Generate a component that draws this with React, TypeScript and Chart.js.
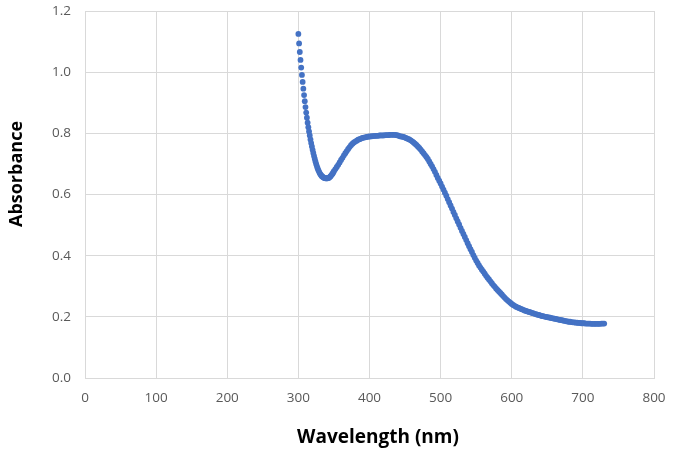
import React, { useEffect, useRef } from "react";
import { Chart, registerables } from "chart.js";

Chart.register(...registerables);

// Wavelength (nm), 1 nm steps over the steep UV edge, 2 nm steps afterwards
const wavelengthsUV: number[] = [
  300, 301, 302, 303, 304, 305, 306, 307, 308, 309, 310, 311, 312, 313, 314, 315, 316, 317, 318, 319,
  320, 321, 322, 323, 324, 325, 326, 327, 328, 329, 330, 331, 332, 333, 334, 335, 336, 337, 338, 339,
  340, 341, 342, 343, 344, 345, 346, 347, 348, 349, 350,
];
const absorbanceUV: number[] = [
  1.125, 1.094, 1.066, 1.04, 1.015, 0.991, 0.968, 0.946, 0.925, 0.905, 0.886, 0.868, 0.851, 0.835, 0.82,
  0.806, 0.793, 0.78, 0.768, 0.757, 0.746, 0.736, 0.726, 0.717, 0.708, 0.7, 0.693, 0.686, 0.68, 0.675,
  0.67, 0.666, 0.663, 0.66, 0.658, 0.656, 0.655, 0.654, 0.653, 0.653, 0.653, 0.653, 0.654, 0.655, 0.657,
  0.659, 0.662, 0.665, 0.668, 0.672, 0.676,
];
const wavelengthsVis: number[] = [
  352, 354, 356, 358, 360, 362, 364, 366, 368, 370, 372, 374, 376, 378, 380, 382, 384, 386, 388, 390,
  392, 394, 396, 398, 400, 402, 404, 406, 408, 410, 412, 414, 416, 418, 420, 422, 424, 426, 428, 430,
  432, 434, 436, 438, 440, 442, 444, 446, 448, 450, 452, 454, 456, 458, 460, 462, 464, 466, 468, 470,
  472, 474, 476, 478, 480, 482, 484, 486, 488, 490, 492, 494, 496, 498, 500, 502, 504, 506, 508, 510,
  512, 514, 516, 518, 520, 522, 524, 526, 528, 530, 532, 534, 536, 538, 540, 542, 544, 546, 548, 550,
  552, 554, 556, 558, 560, 562, 564, 566, 568, 570, 572, 574, 576, 578, 580, 582, 584, 586, 588, 590,
  592, 594, 596, 598, 600, 602, 604, 606, 608, 610, 612, 614, 616, 618, 620, 622, 624, 626, 628, 630,
  632, 634, 636, 638, 640, 642, 644, 646, 648, 650, 652, 654, 656, 658, 660, 662, 664, 666, 668, 670,
  672, 674, 676, 678, 680, 682, 684, 686, 688, 690, 692, 694, 696, 698, 700, 702, 704, 706, 708, 710,
  712, 714, 716, 718, 720, 722, 724, 726, 728, 730,
];
const absorbanceVis: number[] = [
  0.683, 0.69, 0.697, 0.705, 0.713, 0.72, 0.728, 0.735, 0.742, 0.749, 0.755, 0.761, 0.766, 0.77, 0.773,
  0.776, 0.779, 0.781, 0.783, 0.785, 0.786, 0.787, 0.788, 0.789, 0.79, 0.79, 0.791, 0.791, 0.792, 0.792,
  0.792, 0.793, 0.793, 0.793, 0.793, 0.794, 0.794, 0.794, 0.795, 0.795, 0.795, 0.795, 0.795, 0.794, 0.793,
  0.791, 0.79, 0.789, 0.788, 0.786, 0.784, 0.782, 0.78, 0.777, 0.774, 0.77, 0.766, 0.762, 0.757, 0.752,
  0.747, 0.741, 0.735, 0.729, 0.723, 0.716, 0.708, 0.7, 0.692, 0.683, 0.674, 0.664, 0.654, 0.645, 0.636,
  0.626, 0.616, 0.606, 0.596, 0.585, 0.575, 0.564, 0.554, 0.543, 0.533, 0.522, 0.512, 0.502, 0.491, 0.481,
  0.471, 0.461, 0.451, 0.441, 0.431, 0.421, 0.412, 0.402, 0.393, 0.384, 0.376, 0.368, 0.361, 0.354, 0.348,
  0.341, 0.334, 0.328, 0.322, 0.316, 0.31, 0.304, 0.299, 0.293, 0.288, 0.283, 0.278, 0.273, 0.268, 0.263,
  0.258, 0.254, 0.25, 0.246, 0.242, 0.239, 0.236, 0.233, 0.231, 0.229, 0.227, 0.225, 0.223, 0.221, 0.219,
  0.218, 0.216, 0.215, 0.213, 0.212, 0.21, 0.209, 0.207, 0.206, 0.205, 0.203, 0.202, 0.201, 0.2, 0.199,
  0.198, 0.197, 0.196, 0.195, 0.194, 0.193, 0.192, 0.191, 0.19, 0.189, 0.188, 0.187, 0.186, 0.185, 0.184,
  0.184, 0.183, 0.182, 0.182, 0.181, 0.181, 0.18, 0.18, 0.179, 0.179, 0.179, 0.178, 0.178, 0.178, 0.178,
  0.177, 0.177, 0.177, 0.177, 0.177, 0.177, 0.177, 0.178, 0.178, 0.178,
];

const xTitle = "Wavelength (nm)";
const yTitle = "Absorbance";

const xMin = 0, xMax = 800, xStep = 100;
const yMin = 0, yMax = 1.2, yStep = 0.2;

const axisTitlesPlugin = {
  id: "axisTitles",
  afterDraw(chart: any) {
    const { ctx } = chart;
    ctx.save();
    ctx.fillStyle = "#000000";
    ctx.textAlign = "center";
    ctx.textBaseline = "middle";
    ctx.font = "bold 19px 'Open Sans', sans-serif";
    ctx.fillText(xTitle, 378, 438);
    ctx.translate(17, 174);
    ctx.rotate(-Math.PI / 2);
    ctx.font = "bold 18px 'Open Sans', sans-serif";
    ctx.fillText(yTitle, 0, 0);
    ctx.restore();
  },
};

export default function App() {
  const canvasRef = useRef<HTMLCanvasElement | null>(null);

  useEffect(() => {
    document.body.style.margin = "0";
    const points = [
      ...wavelengthsUV.map((x, i) => ({ x, y: absorbanceUV[i] })),
      ...wavelengthsVis.map((x, i) => ({ x, y: absorbanceVis[i] })),
    ];
    const chart = new Chart(canvasRef.current as HTMLCanvasElement, {
      type: "scatter",
      data: {
        datasets: [
          {
            data: points,
            backgroundColor: "#4472C4",
            borderColor: "#4472C4",
            borderWidth: 0,
            pointRadius: 2.9,
            showLine: false,
          },
        ],
      },
      options: {
        animation: false,
        responsive: true,
        maintainAspectRatio: false,
        layout: { autoPadding: false, padding: { left: 0, right: 20, top: 11, bottom: 0 } },
        plugins: { legend: { display: false }, tooltip: { enabled: false } },
        scales: {
          x: {
            type: "linear",
            min: xMin,
            max: xMax,
            ticks: {
              stepSize: xStep,
              color: "#595959",
              font: { family: "'Open Sans', sans-serif", size: 13.5 },
              padding: 12,
            },
            grid: { color: "#d9d9d9", lineWidth: 1, drawTicks: false },
            border: { color: "#d9d9d9" },
            afterFit: (scale: any) => {
              scale.height = 77;
              scale.paddingLeft = 0;
              scale.paddingRight = 0;
            },
          },
          y: {
            type: "linear",
            min: yMin,
            max: yMax,
            ticks: {
              stepSize: yStep,
              color: "#595959",
              font: { family: "'Open Sans', sans-serif", size: 13.5 },
              padding: 14,
              callback: (v: any) => Number(v).toFixed(1),
            },
            grid: { color: "#d9d9d9", lineWidth: 1, drawTicks: false },
            border: { color: "#d9d9d9" },
            afterFit: (scale: any) => {
              scale.width = 85;
              scale.paddingTop = 0;
              scale.paddingBottom = 0;
            },
          },
        },
      },
      plugins: [axisTitlesPlugin],
    });
    return () => chart.destroy();
  }, []);

  return (
    <div style={{ position: "absolute", left: 0, top: 0, width: 674, height: 455 }}>
      <canvas ref={canvasRef} />
    </div>
  );
}
